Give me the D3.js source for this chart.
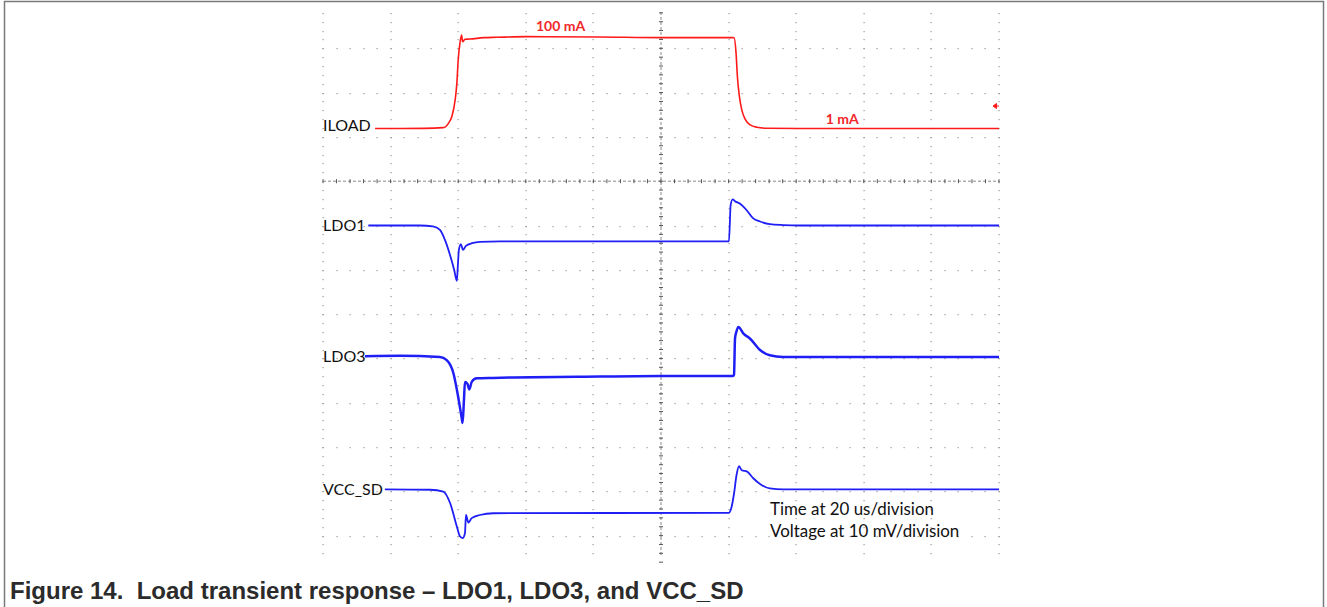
<!DOCTYPE html>
<html>
<head>
<meta charset="utf-8">
<script src="https://cdn.jsdelivr.net/npm/d3@7/dist/d3.min.js"></script>
<style>
  html, body { margin: 0; padding: 0; background: #fff; }
  svg { display: block; }
</style>
</head>
<body>
<div id="chart"></div>
<script>
// time base: 20 us/division, 10 divisions
var timeTicks = [0, 20, 40, 60, 80, 100, 120, 140, 160, 180, 200];

// ILOAD trace, time in us, current in mA
var iloadTime = [15.4, 30, 35.6, 37.1, 38.1, 39.1, 39.6, 40.0, 40.5, 41.0, 41.3, 42.0, 43.5, 47.5, 51.4, 60.3, 82, 100.2, 121.3,
                 121.6, 122.2, 122.6, 123.2, 123.9, 124.9, 126.4, 128.3, 131.3, 141.1, 200];
var iloadMa   = [1.0, 1.1, 1.9, 6.6, 13.8, 32, 50, 75.4, 93.5, 102.5, 95.2, 97.9, 98.1, 99.6, 100, 100.7, 100.3, 99.6, 99.7,
                 99.6, 83.3, 57.5, 35.7, 21.2, 11.1, 4.9, 2.4, 1.3, 1.0, 1.0];
var iloadLabels = [{ text: "100 mA", t: 70.3, ma: 106.6 }, { text: "1 mA", t: 153.6, ma: 6 }];
var triggerMa = 25.4;

// voltage traces, deviation in mV from the no-load level
var ldo1Time = [13.4, 28.7, 32.5, 34.6, 36.1, 37.6, 38.8, 39.6, 39.9, 40.2, 40.8, 41.4, 42.3, 44.1, 46.4, 52.4, 120.1,
                120.6, 121.2, 121.9, 123.4, 125.3, 127.3, 129.3, 132.2, 136.2, 141, 200];
var ldo1Mv   = [0, 0, -0.2, -1.0, -3.3, -6.7, -10.0, -12.5, -9.0, -5.5, -4.2, -5.5, -4.6, -4.0, -3.7, -3.6, -3.6,
                4.6, 5.9, 5.5, 4.9, 3.5, 1.6, 0.9, 0.3, 0.1, 0, 0];

var ldo3Time = [12.4, 22.8, 34.6, 36.6, 38.6, 40.0, 41.0, 41.3, 41.7, 42.0, 42.7, 43.3, 44.0, 45.5, 50.3, 82, 100, 121.3,
                121.6, 121.9, 122.3, 122.9, 124.4, 126.3, 129.3, 132.2, 136.1, 200];
var ldo3Mv   = [0, 0.1, -0.2, -0.9, -3.9, -9.2, -13.8, -15.1, -9.9, -5.8, -6.2, -7.5, -5.8, -5.0, -4.9, -4.6, -4.5, -4.5,
                -4.2, 4.0, 5.5, 6.6, 5.1, 4.0, 1.4, 0.2, -0.2, -0.2];

var vccTime = [18.3, 31.7, 35.6, 37.6, 39.6, 40.5, 41.3, 42.0, 42.3, 43.0, 44.0, 46.4, 50.4, 120.1,
               120.7, 121.6, 122.3, 123.1, 123.9, 125.5, 127.3, 129.3, 132.2, 136.1, 200];
var vccMv   = [0, -0.1, -0.5, -3.1, -8.4, -10.6, -11.0, -9.9, -5.8, -7.5, -6.5, -5.8, -5.4, -5.3,
               -4.5, -1.0, 3.0, 5.2, 4.3, 4.0, 2.5, 1.2, 0.2, 0, 0];

var noteLines = ["Time at 20 us/division", "Voltage at 10 mV/division"];
var caption = "Figure 14.  Load transient response \u2013 LDO1, LDO3, and VCC_SD";

var W = 1327, H = 607;
var svg = d3.select("#chart").append("svg")
    .attr("width", W)
    .attr("height", H);

// scales
var x = d3.scaleLinear().domain([0, 200]).range([323, 999]);
var yDiv = d3.scaleLinear().domain([0, 12]).range([4, 535.6]);   // vertical divisions
var yI = d3.scaleLinear().domain([1, 100]).range([128.5, 37.3]);  // ILOAD channel
var mvPerDiv = 10;

// frame
svg.append("path")
    .attr("d", "M4.5," + H + " V1.5 H1323.5 V" + H)
    .attr("fill", "none")
    .attr("stroke", "#7a7a7a")
    .attr("stroke-width", 1.5);

// grid dots
var grid = svg.append("g").attr("fill", "#9a9a9a");
var minorY = d3.range(1, 63).map(function(k) { return yDiv(k / 5); });
var minorX = d3.range(0, 201, 4).map(function(t) { return x(t); });
var rows = d3.range(1, 13);

timeTicks.filter(function(t) { return t != 100; }).forEach(function(t) {
  grid.selectAll(null).data(minorY).enter().append("rect")
      .attr("x", Math.round(x(t)) - 0.5).attr("y", function(d) { return Math.round(d); })
      .attr("width", 1.2).attr("height", 1.2);
});
rows.filter(function(r) { return r != 4; }).forEach(function(r) {
  grid.selectAll(null).data(minorX).enter().append("rect")
      .attr("x", function(d) { return Math.round(d) - 0.5; }).attr("y", Math.round(yDiv(r)))
      .attr("width", 1.2).attr("height", 1.2);
});

// center cross with tick marks
var cx = x(100), cy = yDiv(4);
var cross = svg.append("g").attr("stroke", "#8a8a8a").attr("stroke-width", 1);
cross.append("line").attr("x1", cx).attr("x2", cx).attr("y1", 12).attr("y2", 557)
    .attr("stroke-dasharray", "3,2");
cross.append("line").attr("x1", x(0)).attr("x2", x(200)).attr("y1", cy).attr("y2", cy)
    .attr("stroke-dasharray", "3,2");
cross.selectAll(null).data(d3.range(1, 64).map(function(k) { return yDiv(k / 5); })).enter().append("line")
    .attr("x1", cx - 2).attr("x2", cx + 2)
    .attr("y1", function(d) { return d; }).attr("y2", function(d) { return d; })
    .attr("stroke", "#555");
cross.selectAll(null).data(minorX).enter().append("line")
    .attr("y1", cy - 2).attr("y2", cy + 2)
    .attr("x1", function(d) { return d; }).attr("x2", function(d) { return d; })
    .attr("stroke", "#555");

// ILOAD trace
var iLine = d3.line()
    .curve(d3.curveMonotoneX)
    .x(function(d) { return x(d[0]); })
    .y(function(d) { return yI(d[1]); });
svg.append("path")
    .datum(d3.zip(iloadTime, iloadMa))
    .attr("fill", "none")
    .attr("stroke", "#ff1a1a")
    .attr("stroke-width", 1.6)
    .attr("d", iLine);

svg.selectAll(null).data(iloadLabels).enter().append("text")
    .attr("x", function(d) { return x(d.t); })
    .attr("y", function(d) { return yI(d.ma); })
    .attr("text-anchor", "middle")
    .attr("font-family", "Lato, 'Open Sans', sans-serif")
    .attr("font-weight", "bold")
    .attr("font-size", 14)
    .attr("fill", "#f2272b")
    .text(function(d) { return d.text; });

// trigger level marker
var ty = yI(triggerMa);
svg.append("path")
    .attr("d", "M" + (x(200) - 6) + "," + ty + " l3.5,-2.5 v5 z M" + (x(200) - 3) + "," + ty + " h3")
    .attr("fill", "#ff1a1a")
    .attr("stroke", "#ff1a1a")
    .attr("stroke-width", 1);

// voltage traces
var traces = [
  { name: "LDO1", t: ldo1Time, v: ldo1Mv, offset: 5.0, width: 1.8 },
  { name: "LDO3", t: ldo3Time, v: ldo3Mv, offset: 7.95, width: 2.5 },
  { name: "VCC_SD", t: vccTime, v: vccMv, offset: 10.955, width: 1.8 }
];

traces.forEach(function(tr) {
  var vLine = d3.line()
      .curve(d3.curveMonotoneX)
      .x(function(d) { return x(d[0]); })
      .y(function(d) { return yDiv(tr.offset - d[1] / mvPerDiv); });
  svg.append("path")
      .datum(d3.zip(tr.t, tr.v))
      .attr("fill", "none")
      .attr("stroke", "#1f1ff5")
      .attr("stroke-width", tr.width)
      .attr("stroke-linejoin", "round")
      .attr("d", vLine);
});

// channel labels
var labelData = [{ name: "ILOAD", y: yI(iloadMa[0]) - 3 }].concat(traces.map(function(tr) {
  return { name: tr.name, y: yDiv(tr.offset - tr.v[0] / mvPerDiv) };
}));
svg.selectAll(null).data(labelData).enter().append("text")
    .attr("x", 323)
    .attr("y", function(d) { return d.y; })
    .attr("dy", "0.36em")
    .attr("font-family", "Lato, 'Open Sans', sans-serif")
    .attr("font-size", 16)
    .attr("fill", "#111")
    .text(function(d) { return d.name; });

// note
svg.selectAll(null).data(noteLines).enter().append("text")
    .attr("x", 770)
    .attr("y", function(d, i) { return 515 + i * 22.3; })
    .attr("font-family", "Lato, 'Open Sans', sans-serif")
    .attr("font-size", 16.9)
    .attr("fill", "#111")
    .text(function(d) { return d; });

// caption
svg.append("text")
    .attr("x", 10)
    .attr("y", 599)
    .attr("xml:space", "preserve")
    .style("white-space", "pre")
    .attr("font-family", "'Liberation Sans', Arial, sans-serif")
    .attr("font-weight", "bold")
    .attr("font-size", 24)
    .attr("fill", "#2b2b2b")
    .text(caption);
</script>
</body>
</html>
